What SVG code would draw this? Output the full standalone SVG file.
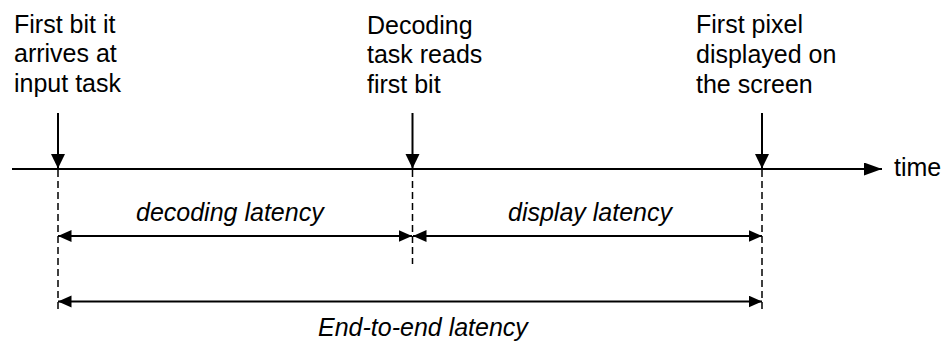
<svg xmlns="http://www.w3.org/2000/svg" width="943" height="343" viewBox="0 0 943 343">
  <style>
    .lbl { font-family: "Liberation Sans", Arial, sans-serif; font-size: 25px; fill: #000; }
    .it { font-style: italic; }
    .solid { stroke: #000; stroke-width: 2; fill: none; }
    .dash { stroke: #000; stroke-width: 1.5; stroke-dasharray: 7 4; fill: none; }
  </style>
  <defs>
    <marker id="head" markerUnits="userSpaceOnUse" markerWidth="15" markerHeight="13" refX="13.5" refY="6" orient="auto-start-reverse">
      <path d="M0,0 L13.5,6 L0,12 Z" fill="#000"/>
    </marker>
    <marker id="headBig" markerUnits="userSpaceOnUse" markerWidth="19" markerHeight="14" refX="18" refY="6.5" orient="auto">
      <path d="M0,0 L18,6.5 L0,13 Z" fill="#000"/>
    </marker>
    <marker id="headDown" markerUnits="userSpaceOnUse" markerWidth="16" markerHeight="15" refX="15" refY="7.25" orient="auto">
      <path d="M0,0 L15,7.25 L0,14.5 Z" fill="#000"/>
    </marker>
  </defs>

  <!-- event labels -->
  <g id="event-input">
    <text class="lbl" x="14" y="33">First bit it</text>
    <text class="lbl" x="14" y="62">arrives at</text>
    <text class="lbl" x="14" y="91.5">input task</text>
  </g>
  <g id="event-decode">
    <text class="lbl" x="367" y="33.5">Decoding</text>
    <text class="lbl" x="367" y="63">task reads</text>
    <text class="lbl" x="367" y="93">first bit</text>
  </g>
  <g id="event-display">
    <text class="lbl" x="696" y="33">First pixel</text>
    <text class="lbl" x="696" y="62.5">displayed on</text>
    <text class="lbl" x="696" y="92.5">the screen</text>
  </g>
  <g id="axis-label">
    <text class="lbl" x="894" y="176">time</text>
  </g>
  <g id="interval-labels">
    <text class="lbl it" x="136" y="221">decoding latency</text>
    <text class="lbl it" x="508" y="221">display latency</text>
    <text class="lbl it" x="318" y="336">End-to-end latency</text>
  </g>

  <g id="connectors">
    <!-- time axis -->
    <line class="solid" x1="12" y1="169" x2="882" y2="169" marker-end="url(#headBig)"/>
    <!-- event pointers -->
    <line class="solid" x1="58" y1="113" x2="58" y2="168.5" marker-end="url(#headDown)"/>
    <line class="solid" x1="412.5" y1="113" x2="412.5" y2="168.5" marker-end="url(#headDown)"/>
    <line class="solid" x1="762" y1="113" x2="762" y2="168.5" marker-end="url(#headDown)"/>
    <!-- dashed guides -->
    <line class="dash" x1="58" y1="170" x2="58" y2="312"/>
    <line class="dash" x1="412.5" y1="170" x2="412.5" y2="264"/>
    <line class="dash" x1="762" y1="170" x2="762" y2="312"/>
    <!-- interval dimensions -->
    <line class="solid" x1="58" y1="236" x2="412" y2="236" marker-start="url(#head)" marker-end="url(#head)"/>
    <line class="solid" x1="413" y1="236" x2="762" y2="236" marker-start="url(#head)" marker-end="url(#head)"/>
    <line class="solid" x1="58" y1="301.5" x2="762" y2="301.5" marker-start="url(#head)" marker-end="url(#head)"/>
  </g>
</svg>
